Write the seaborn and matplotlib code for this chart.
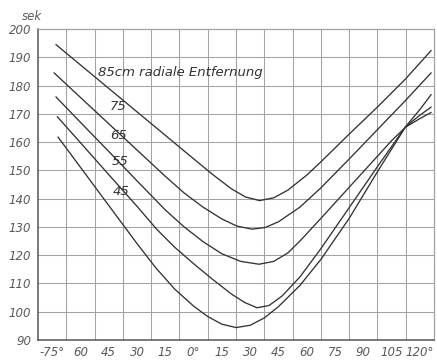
import matplotlib
matplotlib.use("Agg")
import matplotlib.pyplot as plt
import numpy as np
import pandas as pd
import seaborn as sns

# Angle (degrees) and period (seconds) for each radial distance (cm)
angles_85 = [-73, -60, -45, -30, -15, 0, 10, 20, 27.5, 35, 42.5, 50, 60, 67.5, 82.5, 97.5, 112.5, 126]
time_85 = [194.5, 187.3, 179.0, 170.7, 162.4, 154.1, 148.6, 143.5, 140.6, 139.3, 140.3, 143.0, 148.3, 153.0, 162.8, 172.4, 182.4, 192.4]

angles_75 = [-74, -60, -45, -30, -15, -5, 5, 15, 23, 31, 38, 45, 56.4, 67.5, 82.5, 97.5, 112.5, 126]
time_75 = [184.5, 175.8, 166.5, 157.2, 147.9, 142.0, 137.0, 132.8, 130.3, 129.2, 129.8, 131.8, 137.0, 143.8, 154.0, 164.4, 174.8, 184.5]

angles_65 = [-73, -60, -45, -30, -15, -5, 5, 15, 25, 34.7, 42.5, 50, 56.4, 67.5, 82.5, 97.5, 105, 112.5, 120, 126]
time_65 = [176.0, 167.0, 156.7, 146.3, 136.0, 130.0, 124.8, 120.5, 117.8, 116.8, 117.8, 120.8, 125.0, 133.0, 144.0, 155.0, 160.5, 165.3, 168.3, 170.5]

angles_55 = [-72.3, -60, -45, -30, -19.6, -10, 0, 10, 20, 27, 33.7, 40, 47, 56.4, 67.5, 82.5, 97.5, 112.5, 120, 126]
time_55 = [169.0, 159.8, 148.5, 137.3, 129.2, 122.8, 117.0, 111.5, 106.3, 103.3, 101.4, 102.2, 105.6, 112.3, 122.3, 136.8, 151.3, 165.5, 169.5, 172.4]

angles_45 = [-71.9, -60, -45, -30, -20, -10, 0, 7.5, 15, 22.5, 30, 37.5, 45, 56.4, 67.5, 82.5, 97.5, 112.5, 120, 126]
time_45 = [161.8, 151.1, 137.6, 124.1, 115.5, 108.0, 102.0, 98.3, 95.6, 94.4, 95.2, 97.8, 101.8, 109.3, 118.5, 133.0, 149.5, 165.5, 171.5, 176.8]

x_tick_values = [-75, -60, -45, -30, -15, 0, 15, 30, 45, 60, 75, 90, 105, 120]
x_tick_labels = ["-75°", "60", "45", "30", "15", "0°", "15", "30", "45", "60", "75", "90", "105", "120°"]
y_tick_values = list(range(90, 201, 10))

curve_labels = ["85cm radiale Entfernung", "75", "65", "55", "45"]
label_positions = [(-50.5, 184.5), (-44.5, 172.5), (-44.0, 162.5), (-43.5, 153.0), (-43.0, 142.5)]

series = [("85", angles_85, time_85), ("75", angles_75, time_75), ("65", angles_65, time_65),
          ("55", angles_55, time_55), ("45", angles_45, time_45)]
df = pd.concat([pd.DataFrame({"angle": a, "time": t, "distance": d}) for d, a, t in series],
               ignore_index=True)

sns.set_style("white")
plt.rcParams["font.family"] = ["DejaVu Sans"]

ink = "#333333"
grid_c = "#a2a2a2"
text_c = "#5a5a5a"

fig = plt.figure(figsize=(4.37, 3.61), dpi=100)
ax = fig.add_axes([38 / 437, 1 - 340 / 361, 396 / 437, 311 / 361])

sns.lineplot(data=df, x="angle", y="time", hue="distance", units="distance", estimator=None,
             palette=[ink] * 5, linewidth=0.95, legend=False, sort=True, ax=ax)

ax.set_xlim(-82.5, 127.5)
ax.set_ylim(90, 200)

# graph paper grid: vertical lines between the labelled angles, horizontal every 10 s
ax.set_xticks(x_tick_values)
ax.set_xticklabels(x_tick_labels, fontstyle="italic", color=text_c, fontsize=8.5)
ax.set_xticks(np.arange(-67.5, 127.5, 15), minor=True)
ax.set_yticks(y_tick_values)
ax.set_yticklabels([str(v) for v in y_tick_values], fontstyle="italic", color=text_c, fontsize=8.5)
ax.grid(False)
ax.grid(which="minor", axis="x", color=grid_c, linewidth=0.75)
ax.grid(which="major", axis="y", color=grid_c, linewidth=0.75)
ax.tick_params(axis="x", which="major", direction="in", length=8, width=0.75, color=grid_c, pad=4)
ax.tick_params(axis="x", which="minor", length=0)
ax.tick_params(axis="y", which="major", length=0, pad=5)
ax.set_xlabel("")
ax.set_ylabel("")

for side in ["left", "bottom"]:
    ax.spines[side].set_color("#555555")
    ax.spines[side].set_linewidth(1.1)
for side in ["top", "right"]:
    ax.spines[side].set_color(grid_c)
    ax.spines[side].set_linewidth(0.9)

for text, (lx, ly) in zip(curve_labels, label_positions):
    ax.text(lx, ly, text, fontstyle="italic", color=ink, fontsize=9.5, ha="left", va="center")

fig.text(32 / 437, 1 - 16 / 361, "sek", fontstyle="italic", color=text_c, fontsize=8.5,
         ha="center", va="center")

fig.savefig("out.png", dpi=100, facecolor="white")
